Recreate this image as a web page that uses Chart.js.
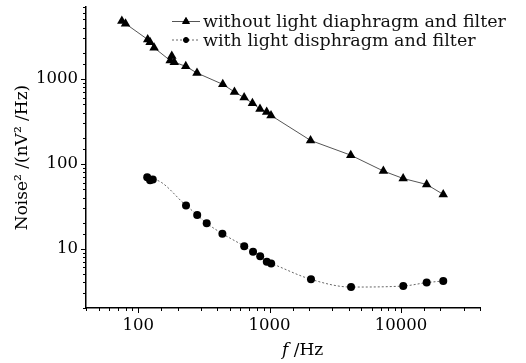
<!DOCTYPE html>
<html>
<head>
<meta charset="utf-8">
<script src="https://cdn.jsdelivr.net/npm/chart.js@4/dist/chart.umd.min.js"></script>
<style>
  html, body { margin: 0; padding: 0; background: #fff; }
  #wrap { width: 526px; height: 363px; }
</style>
</head>
<body>
<div id="wrap"><canvas id="myChart" width="526" height="363"></canvas></div>
<script>
// Data
const labelA = 'without light diaphragm and filter';
const freqA = [75, 80, 118, 123, 132, 175, 180, 188, 230, 280, 440, 540, 640, 740, 845, 950, 1025, 2050, 4150, 7350, 10400, 15700, 21000];
const noiseA = [4800, 4450, 2900, 2700, 2320, 1640, 1850, 1570, 1400, 1170, 860, 700, 600, 515, 440, 405, 370, 188, 126, 82, 67, 57, 43.5];

const labelB = 'with light disphragm and filter';
const freqB = [117, 123, 129, 231, 281, 332, 437, 641, 748, 848, 952, 1028, 2066, 4170, 10420, 15700, 21000];
const noiseB = [69.5, 64, 65.3, 32.3, 24.9, 19.9, 15.0, 10.7, 9.2, 8.16, 7.0, 6.7, 4.35, 3.53, 3.63, 3.98, 4.16];

const xLabels = [100, 1000, 10000];
const yLabels = [10, 100, 1000];

const FONT = "'DejaVu Serif', 'Liberation Serif', serif";

function toPoints(xs, ys) {
  return xs.map(function (x, i) { return { x: x, y: ys[i] }; });
}

function isDecade(v) {
  const lg = Math.log10(v);
  return Math.abs(lg - Math.round(lg)) < 1e-9;
}

// outward tick marks, long on decades, short in between
const tickMarks = {
  id: 'tickMarks',
  afterDraw(chart) {
    const c = chart.ctx;
    const xs = chart.scales.x;
    const ys = chart.scales.y;
    c.save();
    c.strokeStyle = '#000';
    c.lineWidth = 1;
    c.beginPath();
    xs.ticks.forEach(function (t) {
      const len = isDecade(t.value) ? 5 : 3;
      const px = Math.round(xs.getPixelForValue(t.value)) + 0.5;
      c.moveTo(px, xs.top);
      c.lineTo(px, xs.top + len);
    });
    ys.ticks.forEach(function (t) {
      const len = isDecade(t.value) ? 5 : 3;
      const py = Math.round(ys.getPixelForValue(t.value)) + 0.5;
      c.moveTo(ys.right, py);
      c.lineTo(ys.right - len, py);
    });
    c.stroke();

    // x axis title with italic f
    c.fillStyle = '#000';
    c.textBaseline = 'alphabetic';
    c.textAlign = 'left';
    c.font = 'italic 17px ' + FONT;
    const fx = 282, fy = 355;
    c.fillText('f', fx, fy);
    const fw = c.measureText('f').width;
    c.font = '17px ' + FONT;
    c.fillText(' /Hz', fx + fw, fy);

    // legend: line sample + marker + text
    const rows = [
      { y: 21.5, ds: chart.data.datasets[0], text: labelA },
      { y: 40, ds: chart.data.datasets[1], text: labelB }
    ];
    rows.forEach(function (r) {
      c.save();
      c.strokeStyle = r.ds.borderColor;
      c.lineWidth = 1;
      c.setLineDash(r.ds.borderDash || []);
      c.beginPath();
      c.moveTo(172, r.y);
      c.lineTo(200, r.y);
      c.stroke();
      c.restore();
      Chart.helpers.drawPoint(c, {
        pointStyle: r.ds.pointStyle,
        radius: r.ds.pointRadius - 1.5,
        borderWidth: 1,
        rotation: 0
      }, 186, r.y);
      c.fillStyle = '#000';
      c.fill();
      c.font = '17.5px ' + FONT;
      c.textBaseline = 'middle';
      c.fillStyle = '#111';
      c.fillText(r.text, 203, r.y + 1);
    });
    c.restore();
  }
};

const ctx = document.getElementById('myChart').getContext('2d');

const chart = new Chart(ctx, {
  type: 'line',
  data: {
    datasets: [{
      label: labelA,
      data: toPoints(freqA, noiseA),
      borderColor: '#555',
      borderWidth: 1,
      backgroundColor: '#000',
      pointStyle: 'triangle',
      pointRadius: 5.5,
      pointBackgroundColor: '#000',
      pointBorderColor: '#000',
      pointBorderWidth: 0,
      tension: 0
    },
    {
      label: labelB,
      data: toPoints(freqB, noiseB),
      borderColor: '#666',
      borderWidth: 1,
      borderDash: [2, 2],
      backgroundColor: '#000',
      pointStyle: 'circle',
      pointRadius: 4,
      pointBackgroundColor: '#000',
      pointBorderColor: '#000',
      pointBorderWidth: 0,
      cubicInterpolationMode: 'monotone'
    }]
  },
  options: {
    responsive: false,
    animation: false,
    layout: { padding: { top: 7, right: 46, bottom: 0, left: 0 } },
    plugins: {
      legend: { display: false },
      tooltip: { enabled: false }
    },
    scales: {
      x: {
        type: 'logarithmic',
        min: 40,
        max: 40000,
        grid: { display: false, drawTicks: false },
        border: { display: true, color: '#000', width: 1.5 },
        ticks: {
          autoSkip: false,
          maxRotation: 0,
          padding: 8,
          color: '#000',
          font: { family: FONT, size: 16.5 },
          callback: function (v) { return xLabels.includes(v) ? String(v) : ''; }
        },
        afterFit: function (s) { s.height = 55; s.paddingLeft = 0; s.paddingRight = 0; }
      },
      y: {
        type: 'logarithmic',
        min: 2,
        max: 7000,
        grid: { display: false, drawTicks: false },
        border: { display: true, color: '#000', width: 1.5 },
        ticks: {
          autoSkip: false,
          padding: 8,
          color: '#000',
          font: { family: FONT, size: 16.5 },
          callback: function (v) { return yLabels.includes(v) ? String(v) : ''; }
        },
        title: {
          display: true,
          text: 'Noise² /(nV² /Hz)',
          color: '#000',
          font: { family: FONT, size: 17 },
          padding: { top: 12, bottom: 0 }
        },
        afterFit: function (s) { s.width = 86; s.paddingTop = 0; s.paddingBottom = 0; }
      }
    }
  },
  plugins: [tickMarks]
});
</script>
</body>
</html>
